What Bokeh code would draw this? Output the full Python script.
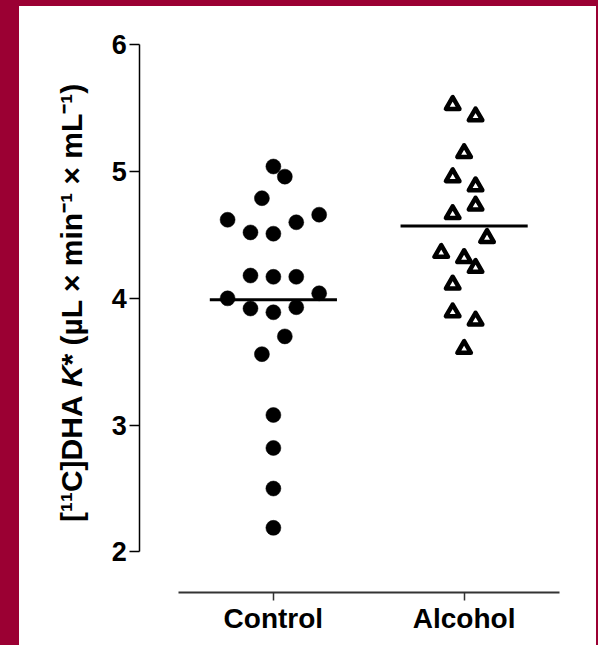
import math
from bokeh.plotting import figure
from bokeh.models import FixedTicker, Range1d
from bokeh.core.properties import value
from bokeh.embed import file_html
from bokeh.resources import INLINE

# ---- data ----
categories = ["Control", "Alcohol"]

control_values = [5.04, 4.96, 4.79, 4.62, 4.52, 4.51, 4.60, 4.66, 4.18, 4.17, 4.17,
                  4.00, 4.04, 3.92, 3.89, 3.93, 3.70, 3.56, 3.08, 2.82, 2.50, 2.19]
control_jitter = [0.0, 0.06, -0.06, -0.24, -0.12, 0.0, 0.12, 0.24, -0.12, 0.0, 0.12,
                  -0.24, 0.24, -0.12, 0.0, 0.12, 0.06, -0.06, 0.0, 0.0, 0.0, 0.0]

alcohol_values = [5.525, 5.436, 5.146, 4.955, 4.884, 4.732, 4.665, 4.476, 4.358,
                  4.318, 4.240, 4.109, 3.890, 3.825, 3.601]
alcohol_jitter = [-0.06, 0.06, 0.0, -0.06, 0.06, 0.06, -0.06, 0.12, -0.12,
                  0.0, 0.06, -0.06, -0.06, 0.06, 0.0]

group_means = [3.99, 4.57]
y_ticks = [2, 3, 4, 5, 6]

ylabel_before = "[\u00b9\u00b9C]DHA"
ylabel_italic = "K"
ylabel_after = "* (\u00b5L \u00d7 min\u207b\u00b9 \u00d7 mL\u207b\u00b9)"

BORDER = "#9b0033"
FONT = "Liberation Sans"

# scale: 190.7 px per category step, 126.85 px per y unit
X_START = -1.331
Y_AXIS_X = -0.7

p = figure(width=577, height=639, output_backend="svg", toolbar_location=None,
           x_range=Range1d(X_START, 1.5), y_range=Range1d(1.68, 6.302),
           min_border_left=0, min_border_right=37, min_border_top=0, min_border_bottom=53)
p.margin = (6, 2, 0, 19)
p.styles = {"background-color": "white"}
p.background_fill_color = None
p.border_fill_color = None
p.outline_line_color = None
p.xgrid.visible = False
p.ygrid.visible = False

# mean lines
half = 1.0 / 3.0
p.segment(x0=[i - half for i in range(len(categories))],
          y0=group_means,
          x1=[i + half for i in range(len(categories))],
          y1=group_means, line_color="black", line_width=3)

# control: filled circles
p.scatter(x=[0 + j for j in control_jitter], y=control_values, marker="circle",
          size=15, fill_color="black", line_color="black", line_width=0.5)

# alcohol: open triangles
p.scatter(x=[1 + j for j in alcohol_jitter], y=alcohol_values, marker="triangle",
          size=13.5, fill_color="white", line_color="black", line_width=4.5,
          line_join="round")

# y axis (left panel, drawn at a fixed data location)
ya = p.yaxis[0]
ya.fixed_location = Y_AXIS_X
ya.ticker = FixedTicker(ticks=y_ticks)
ya.bounds = (2, 6)
ya.axis_line_color = "black"
ya.axis_line_width = 1.5
ya.major_tick_line_color = "black"
ya.major_tick_line_width = 1.5
ya.major_tick_in = 0
ya.major_tick_out = 10
ya.minor_tick_line_color = None
ya.major_label_standoff = 3
ya.major_label_text_font = FONT
ya.major_label_text_font_style = "bold"
ya.major_label_text_font_size = "27px"
ya.major_label_text_color = "black"

# y axis title in three runs (K is italic)
LBL_FS = 30
px_per_y = 126.85
px_per_x = 190.7
lab_x = Y_AXIS_X - (139.3 - 70.5) / px_per_x
k_start = 3.30
space_u = 0.278 * LBL_FS / px_per_y
k_u = 0.722 * LBL_FS / px_per_y
common = dict(angle=math.pi / 2, text_font=value(FONT),
              text_font_size=value("%dpx" % LBL_FS), text_color="black",
              text_baseline="middle")
p.text(x=[lab_x], y=[k_start - space_u], text=[ylabel_before], text_align="right",
       text_font_style=value("bold"), **common)
p.text(x=[lab_x], y=[k_start], text=[ylabel_italic], text_align="left",
       text_font_style=value("bold italic"), **common)
p.text(x=[lab_x], y=[k_start + k_u], text=[ylabel_after], text_align="left",
       text_font_style=value("bold"), **common)

# x axis
xa = p.xaxis[0]
xa.ticker = FixedTicker(ticks=list(range(len(categories))))
xa.major_label_overrides = {i: c for i, c in enumerate(categories)}
xa.bounds = (-0.5, 1.5)
xa.axis_line_color = "#333333"
xa.axis_line_width = 2
xa.major_tick_line_color = "#333333"
xa.major_tick_line_width = 1.5
xa.major_tick_in = 0
xa.major_tick_out = 8
xa.minor_tick_line_color = None
xa.major_label_standoff = 2
xa.major_label_text_font = FONT
xa.major_label_text_font_style = "bold"
xa.major_label_text_font_size = "28px"
xa.major_label_text_color = "black"

html = file_html(p, INLINE)
html = html.replace("</head>",
                    "<style>html,body{margin:0;padding:0;background:%s;}</style></head>" % BORDER, 1)
open("out.html", "w").write(html)
